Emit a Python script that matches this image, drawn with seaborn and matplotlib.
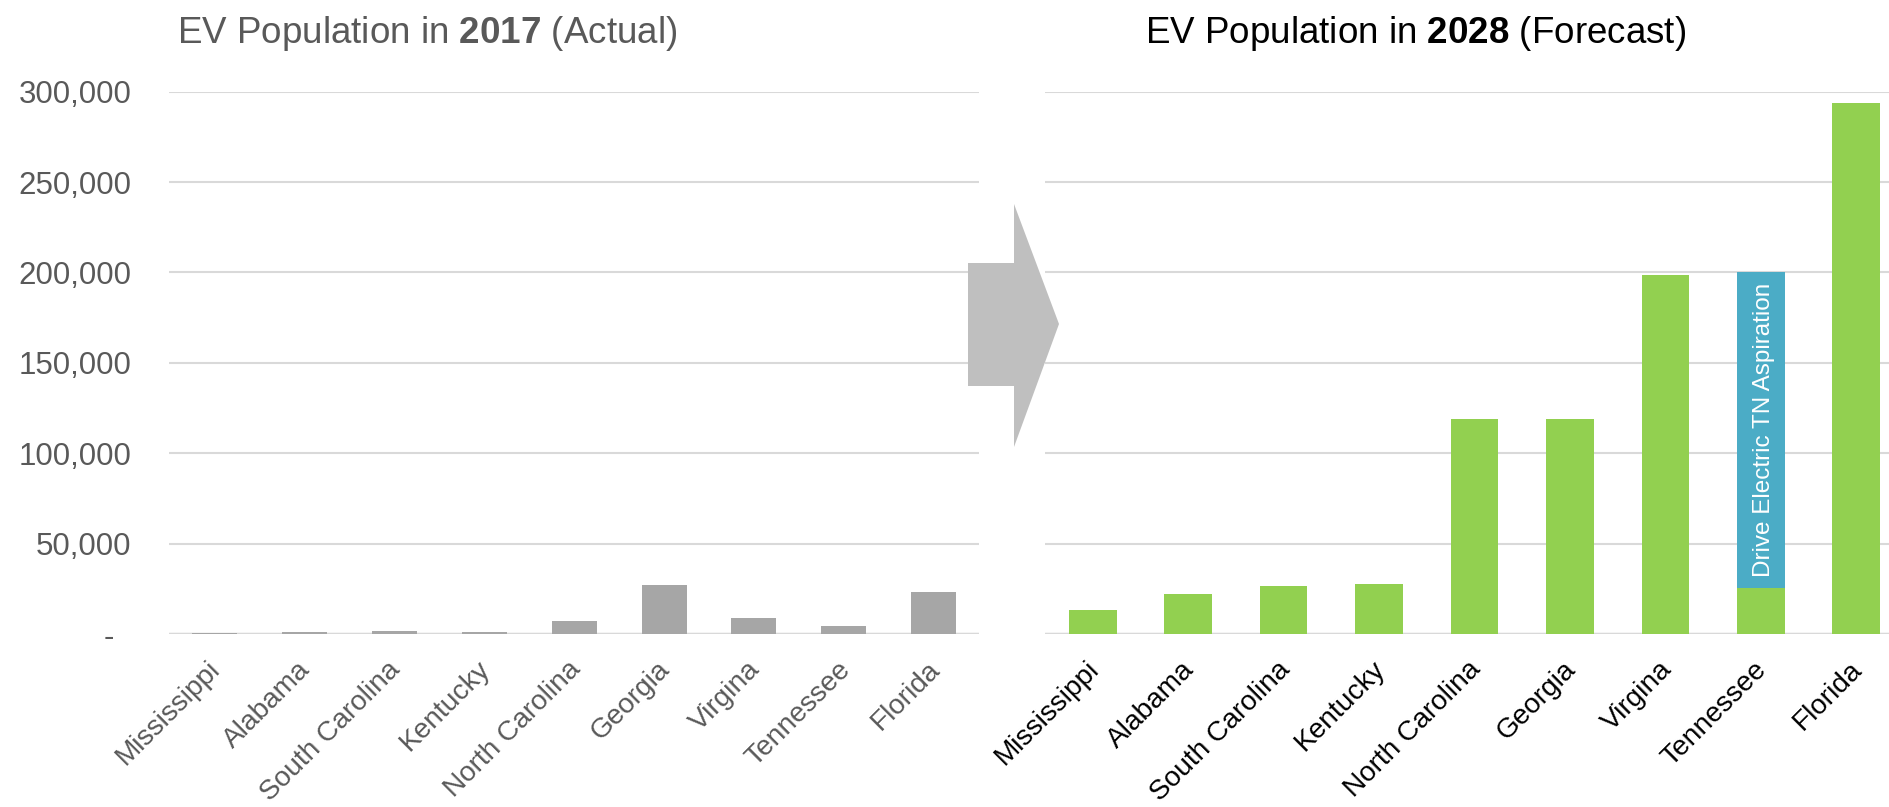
import pandas as pd
import seaborn as sns
import matplotlib.pyplot as plt
import matplotlib.ticker as ticker
import matplotlib.transforms as mtransforms
from matplotlib.patches import Polygon

# dados
estados = ['Mississippi', 'Alabama', 'South Carolina', 'Kentucky', 'North Carolina',
           'Georgia', 'Virgina', 'Tennessee', 'Florida']
ev_2017 = [300, 1100, 1700, 1100, 7000, 27300, 8600, 4200, 23100]
ev_2028 = [13500, 22000, 26700, 27700, 118700, 119000, 198700, 25300, 293500]
aspiracao_estado = ['Tennessee']
aspiracao_valor = [200000]
aspiracao_texto = 'Drive Electric TN Aspiration'

escala_y = [0, 50000, 100000, 150000, 200000, 250000, 300000]

CINZA_BARRA = '#A6A6A6'
VERDE = '#92D050'
AZUL = '#4BACC6'
CINZA_TEXTO = '#595959'
CINZA_GRADE = '#D9D9D9'

LARGURA, ALTURA = 1890, 807


def formatar_y(valor, pos):
    if valor == 0:
        return '-  '
    return f'{valor:,.0f}'


def estilo_eixo(ax, cor_rotulos):
    ax.set_ylim(0, 300000)
    ax.set_yticks(escala_y)
    ax.set_axisbelow(True)
    ax.grid(axis='y', color=CINZA_GRADE, linewidth=1.5)
    ax.axhline(0, color=CINZA_GRADE, linewidth=2.5, zorder=0)
    ax.set_xlabel('')
    ax.set_ylabel('')
    sns.despine(ax=ax, left=True, bottom=True)
    ax.tick_params(axis='x', length=0, pad=16, labelsize=20.2, labelcolor=cor_rotulos)
    # pequeno deslocamento para a esquerda, como no original
    deslocamento = mtransforms.ScaledTranslation(-7 / 100, 0, ax.figure.dpi_scale_trans)
    for rotulo in ax.get_xticklabels():
        rotulo.set_rotation(45)
        rotulo.set_ha('right')
        rotulo.set_va('top')
        rotulo.set_rotation_mode('anchor')
        rotulo.set_transform(rotulo.get_transform() + deslocamento)


def grafico_ev():
    sns.set_style('white')
    plt.rcParams['font.family'] = ['Liberation Sans', 'DejaVu Sans']
    plt.rcParams['mathtext.fontset'] = 'custom'
    plt.rcParams['mathtext.rm'] = 'Liberation Sans'
    plt.rcParams['mathtext.bf'] = 'Liberation Sans:bold'

    df = pd.DataFrame({'estado': estados, 'ev_2017': ev_2017, 'ev_2028': ev_2028})
    df_asp = pd.DataFrame({'estado': aspiracao_estado, 'valor': aspiracao_valor})

    fig = plt.figure(figsize=(LARGURA / 100, ALTURA / 100), dpi=100)

    # eixo da esquerda (2017)
    ax1 = fig.add_axes([169 / LARGURA, 1 - 634 / ALTURA, 810 / LARGURA, 542.4 / ALTURA])
    sns.barplot(x='estado', y='ev_2017', data=df, order=estados, color=CINZA_BARRA,
                width=0.5, linewidth=0, saturation=1, ax=ax1)
    estilo_eixo(ax1, CINZA_TEXTO)
    ax1.yaxis.set_major_formatter(ticker.FuncFormatter(formatar_y))
    ax1.tick_params(axis='y', length=0, pad=27, labelsize=22.5, labelcolor=CINZA_TEXTO)

    # eixo da direita (2028)
    ax2 = fig.add_axes([1045 / LARGURA, 1 - 634 / ALTURA, 859 / LARGURA, 542.4 / ALTURA])
    sns.barplot(x='estado', y='valor', data=df_asp, order=estados, color=AZUL,
                width=0.5, linewidth=0, saturation=1, ax=ax2)
    sns.barplot(x='estado', y='ev_2028', data=df, order=estados, color=VERDE,
                width=0.5, linewidth=0, saturation=1, ax=ax2)
    estilo_eixo(ax2, 'black')
    ax2.tick_params(axis='y', length=0, labelleft=False)

    # texto dentro da barra de aspiração
    i_tn = estados.index('Tennessee')
    y_meio = (ev_2028[i_tn] + aspiracao_valor[0]) / 2
    ax2.text(i_tn + 0.03, y_meio, aspiracao_texto, rotation=90, color='white',
             fontsize=17.5, ha='center', va='center')

    # títulos
    fig.text(177 / LARGURA, 1 - 43 / ALTURA, 'EV Population in $\\bf{2017}$ (Actual)',
             fontsize=26.5, color=CINZA_TEXTO, ha='left', va='baseline')
    fig.text(1145 / LARGURA, 1 - 43 / ALTURA, 'EV Population in $\\bf{2028}$ (Forecast)',
             fontsize=26.5, color='black', ha='left', va='baseline')

    # seta entre os dois gráficos
    pontos = [(968, 263), (1014, 263), (1014, 204), (1059, 324),
              (1014, 447), (1014, 386), (968, 386)]
    pontos = [(x / LARGURA, 1 - y / ALTURA) for x, y in pontos]
    fig.add_artist(Polygon(pontos, closed=True, facecolor='#BFBFBF',
                           edgecolor='none', transform=fig.transFigure))

    plt.savefig('out.png', dpi=100)
    plt.close()


if __name__ == '__main__':
    grafico_ev()
